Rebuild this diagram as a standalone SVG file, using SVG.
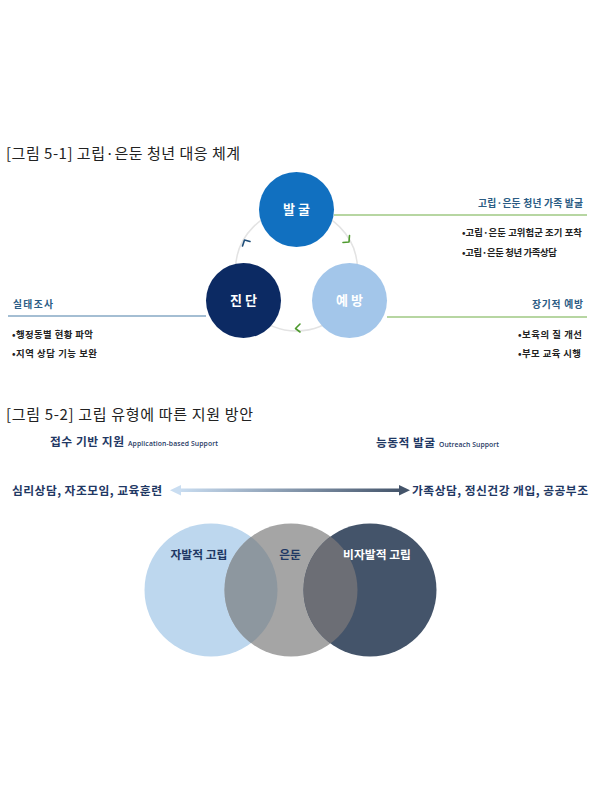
<svg xmlns="http://www.w3.org/2000/svg" width="600" height="800" viewBox="0 0 600 800">
<style>
text{font-family:"Noto Sans CJK KR","Noto Sans",sans-serif}
.title{font-size:15px;fill:#222}
.clabel{font-size:13px;font-weight:bold;fill:#fff;text-anchor:middle;letter-spacing:3px}
.lab{font-size:9.8px;font-weight:bold;fill:#2B5C84}
.bul{font-size:9.4px;font-weight:bold;fill:#222}
.hd{font-size:11.8px;font-weight:bold;fill:#1F3864}
.sub{font-family:"Open Sans","Liberation Sans",sans-serif;font-size:6.8px;fill:#1F3864;font-weight:600}
.arr{font-size:11.8px;font-weight:bold;fill:#1F3864}
.vn{font-size:11.8px;font-weight:bold;text-anchor:middle}
.chev{fill:none;stroke-width:1.6;stroke-linecap:round;stroke-linejoin:round}
</style>
<defs>
<linearGradient id="ag" x1="0" y1="0" x2="1" y2="0">
<stop offset="0" stop-color="#C9DDF1"/>
<stop offset="1" stop-color="#44546A"/>
</linearGradient>
<clipPath id="c1"><circle cx="211" cy="590" r="66.5"/></clipPath>
<clipPath id="c2"><circle cx="291" cy="590" r="66.5"/></clipPath>
</defs>
<rect width="600" height="800" fill="#fff"/>

<text class="title" x="6" y="159" textLength="234" lengthAdjust="spacing">[그림 5-1] 고립·은둔 청년 대응 체계</text>

<g id="connectors">
<circle cx="296.5" cy="270" r="61" fill="none" stroke="#E3E3E3" stroke-width="1.5"/>
<line x1="334" y1="215" x2="587" y2="215" stroke="#70AD47" stroke-width="1.2"/>
<line x1="8" y1="316" x2="206" y2="316" stroke="#4A7EA8" stroke-width="1.2"/>
<line x1="387" y1="317" x2="587" y2="317" stroke="#70AD47" stroke-width="1.2"/>
<polyline class="chev" stroke="#1F4E79" points="242.5,246 244.5,240 250,241.5"/>
<polyline class="chev" stroke="#4E9A2E" points="349.5,235.5 349,242 343,242.5"/>
<polyline class="chev" stroke="#4E9A2E" points="300,324 295.5,328.5 300,332"/>
</g>

<g id="n-balgul">
<circle cx="296.5" cy="209.5" r="37.5" fill="#1170C0"/>
<text class="clabel" x="298" y="214">발굴</text>
</g>
<g id="n-jindan">
<circle cx="243.5" cy="300.5" r="37.5" fill="#0C2A63"/>
<text class="clabel" x="245" y="305">진단</text>
</g>
<g id="n-yebang">
<circle cx="349.5" cy="300.5" r="37.5" fill="#A3C6EA"/>
<text class="clabel" x="351" y="305">예방</text>
</g>

<g id="t-balgul">
<text class="lab" x="478" y="207" textLength="105" lengthAdjust="spacing">고립·은둔 청년 가족 발굴</text>
<text class="bul" x="462" y="236" textLength="120" lengthAdjust="spacing">•고립·은둔 고위험군 조기 포착</text>
<text class="bul" x="462" y="256" textLength="95" lengthAdjust="spacing">•고립·은둔 청년 가족상담</text>
</g>
<g id="t-jindan">
<text class="lab" x="13" y="308" textLength="40" lengthAdjust="spacing">실태조사</text>
<text class="bul" x="12" y="338" textLength="81" lengthAdjust="spacing">•행정동별 현황 파악</text>
<text class="bul" x="12" y="357" textLength="85" lengthAdjust="spacing">•지역 상담 기능 보완</text>
</g>
<g id="t-yebang">
<text class="lab" x="532" y="308" textLength="51" lengthAdjust="spacing">장기적 예방</text>
<text class="bul" x="518" y="338" textLength="64" lengthAdjust="spacing">•보육의 질 개선</text>
<text class="bul" x="518" y="357" textLength="63" lengthAdjust="spacing">•부모 교육 시행</text>
</g>

<text class="title" x="6" y="420" textLength="247" lengthAdjust="spacing">[그림 5-2] 고립 유형에 따른 지원 방안</text>

<g id="h-left">
<text class="hd" x="50" y="446" textLength="74" lengthAdjust="spacing">접수 기반 지원</text>
<text class="sub" x="128" y="446" textLength="90" lengthAdjust="spacing">Application-based Support</text>
</g>
<g id="h-right">
<text class="hd" x="376" y="447" textLength="59" lengthAdjust="spacing">능동적 발굴</text>
<text class="sub" x="439" y="447" textLength="60" lengthAdjust="spacing">Outreach Support</text>
</g>

<g id="arrow">
<rect x="178" y="488.5" width="224" height="3.5" fill="url(#ag)"/>
<polygon points="170,490.2 181,485 181,495.5" fill="#C9DDF1"/>
<polygon points="410,490.2 399,485 399,495.5" fill="#44546A"/>
<text class="arr" x="12" y="494.5" textLength="150" lengthAdjust="spacing">심리상담, 자조모임, 교육훈련</text>
<text class="arr" x="412" y="494.5" textLength="176" lengthAdjust="spacing">가족상담, 정신건강 개입, 공공부조</text>
</g>

<g id="venn">
<circle cx="211" cy="590" r="66.5" fill="#BDD7EE"/>
<circle cx="291" cy="590" r="66.5" fill="#A5A5A5"/>
<circle cx="370" cy="590" r="66.5" fill="#44546A"/>
<circle cx="291" cy="590" r="66.5" fill="#8D979F" clip-path="url(#c1)"/>
<circle cx="370" cy="590" r="66.5" fill="#6C6E75" clip-path="url(#c2)"/>
<text class="vn" x="199" y="559" fill="#1F3864">자발적 고립</text>
<text class="vn" x="290" y="559" fill="#1F3864">은둔</text>
<text class="vn" x="377" y="559" fill="#fff">비자발적 고립</text>
</g>
</svg>
